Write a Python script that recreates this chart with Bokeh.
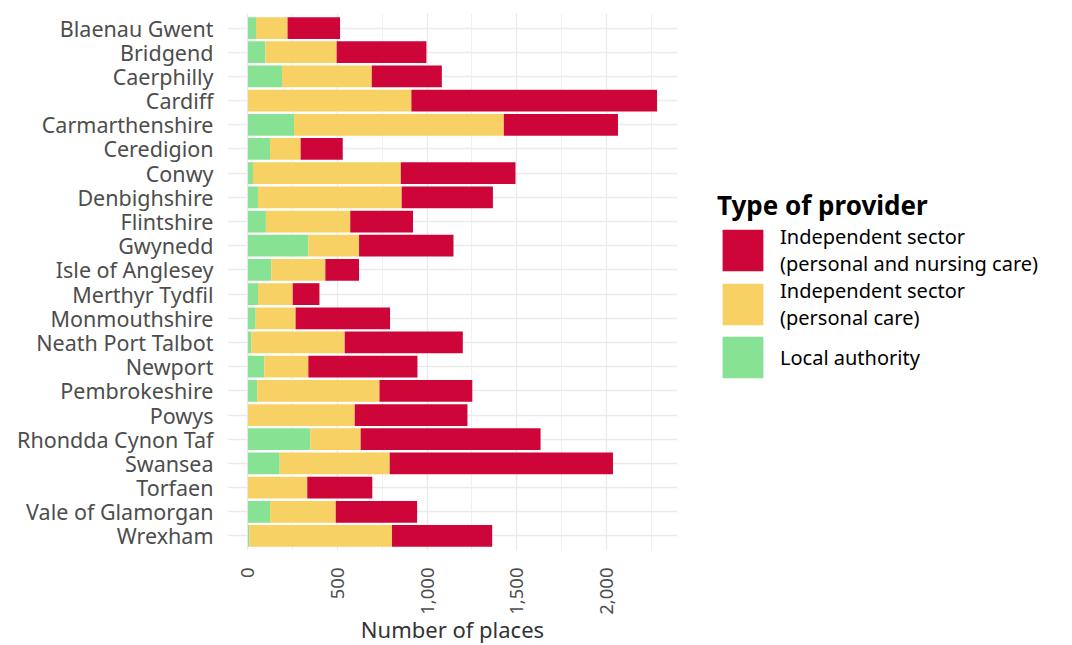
import math
from bokeh.plotting import figure
from bokeh.models import (FactorRange, Range1d, SingleIntervalTicker, NumeralTickFormatter,
                          Legend, LegendItem, ColumnDataSource)
from bokeh.embed import file_html
from bokeh.resources import INLINE

areas = ["Blaenau Gwent", "Bridgend", "Caerphilly", "Cardiff", "Carmarthenshire",
         "Ceredigion", "Conwy", "Denbighshire", "Flintshire", "Gwynedd",
         "Isle of Anglesey", "Merthyr Tydfil", "Monmouthshire", "Neath Port Talbot",
         "Newport", "Pembrokeshire", "Powys", "Rhondda Cynon Taf", "Swansea",
         "Torfaen", "Vale of Glamorgan", "Wrexham"]
local_authority = [45, 97, 190, 0, 257, 123, 28, 56, 100, 337, 130, 56, 43, 18, 91, 52,
                   0, 348, 177, 0, 123, 7]
personal_care = [176, 398, 501, 912, 1171, 171, 825, 802, 471, 283, 302, 194, 223, 522,
                 246, 682, 596, 281, 614, 331, 367, 797]
nursing_care = [293, 501, 391, 1371, 637, 235, 640, 509, 350, 527, 188, 149, 527, 659,
                609, 518, 629, 1004, 1246, 363, 454, 559]

series_labels = ["Local authority", "Independent sector\n(personal care)",
                 "Independent sector\n(personal and nursing care)"]
colors = ["#88E294", "#F7D163", "#CE0538"]

FONT = "Noto Sans"

source = ColumnDataSource(dict(area=areas, la=local_authority, pc=personal_care,
                               pnc=nursing_care))

totals = [a + b + c for a, b, c in zip(local_authority, personal_care, nursing_care)]
xmax = max(totals)
pad = 0.05 * xmax

p = figure(frame_width=450, frame_height=537,
           y_range=FactorRange(factors=areas[::-1], range_padding=0.1,
                               range_padding_units="absolute"),
           x_range=Range1d(-pad, xmax + pad),
           output_backend="svg", toolbar_location=None,
           min_border_left=227, min_border_right=395, min_border_top=13,
           min_border_bottom=80)

rs = p.hbar_stack(["la", "pc", "pnc"], y="area", height=0.9, color=colors,
                  line_width=0, source=source)

p.outline_line_color = None
p.background_fill_color = "white"

p.xaxis.ticker = SingleIntervalTicker(interval=500, num_minor_ticks=2)
p.xaxis.formatter = NumeralTickFormatter(format="0,0")
p.xaxis.major_label_orientation = math.pi / 2
p.xaxis.axis_label = "Number of places"

for ax in (p.xaxis, p.yaxis):
    ax.axis_line_color = None
    ax.major_tick_line_color = None
    ax.minor_tick_line_color = None
    ax.major_tick_out = 0
    ax.major_tick_in = 0
    ax.major_label_text_font = FONT
    ax.major_label_text_color = "#4d4d4d"
    ax.axis_label_text_font = FONT
    ax.axis_label_text_font_size = "22px"
    ax.axis_label_text_font_style = "normal"
    ax.axis_label_text_color = "#333333"

p.yaxis.major_label_text_font_size = "21.5px"
p.xaxis.major_label_text_font_size = "18.5px"
p.xaxis.major_label_standoff = 13
p.xaxis.axis_label_standoff = -4
p.yaxis.major_label_standoff = 14

p.xgrid.grid_line_color = "#ebebeb"
p.xgrid.grid_line_width = 1.3
p.xgrid.minor_grid_line_color = "#f0f0f0"
p.xgrid.minor_grid_line_width = 1
p.ygrid.grid_line_color = "#ebebeb"
p.ygrid.grid_line_width = 1.3

legend = Legend(items=[LegendItem(label=series_labels[2], renderers=[rs[2]]),
                       LegendItem(label=series_labels[1], renderers=[rs[1]]),
                       LegendItem(label=series_labels[0], renderers=[rs[0]])],
                location=(40, 167), title="Type of provider",
                glyph_width=51, glyph_height=52, label_height=42, spacing=0,
                label_standoff=12, padding=0, margin=0, border_line_color=None,
                background_fill_alpha=0,
                title_text_font=FONT, title_text_font_size="26px",
                title_text_font_style="bold", title_text_color="black",
                title_standoff=0,
                label_text_font=FONT, label_text_font_size="20px",
                label_text_color="black")
p.add_layout(legend, "right")

open("out.html", "w").write(file_html(p, INLINE))
